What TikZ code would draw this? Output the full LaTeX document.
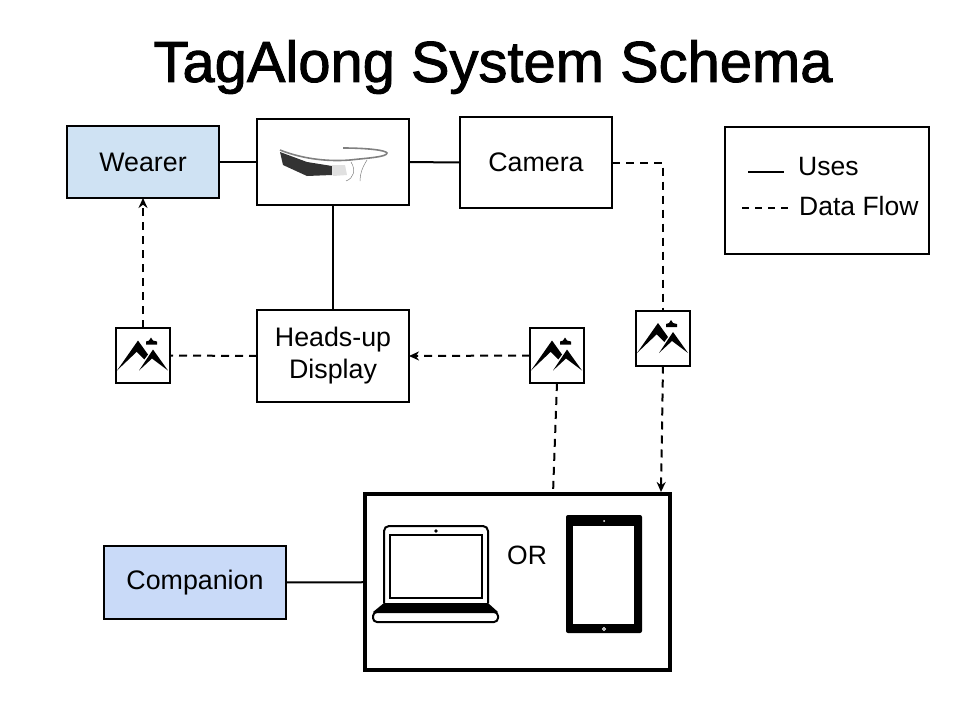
\documentclass[tikz,border=0pt]{standalone}
\usepackage{fontspec}
\setmainfont{Liberation Sans}
\newfontfamily\titlefont[FakeBold=1.6]{Liberation Sans}
\usepackage{xcolor}
\usetikzlibrary{positioning,shapes,arrows.meta}
\definecolor{wearerblue}{HTML}{CFE2F3}
\definecolor{companionblue}{HTML}{C9DAF8}

\begin{document}
\begin{tikzpicture}[
  x=1pt, y=-1pt,
  box/.style={rectangle, draw=black, line width=2pt, outer sep=0pt, align=center, font=\fontsize{26.8}{32}\selectfont},
  imgbox/.style={rectangle, draw=black, line width=2pt, outer sep=0pt, fill=white, minimum width=54pt, minimum height=55pt},
  label/.style={inner sep=0pt, font=\fontsize{26.5}{32}\selectfont},
  uses/.style={line width=2pt, black},
  flow/.style={line width=2pt, black, dash pattern=on 8pt off 6pt},
  arrow/.style={flow, -{Stealth[length=10pt,width=9pt]}},
  scenery/.pic={
    \fill[black] (-26,15) -- (-5,-15) -- (5,-1) -- (1.3,4) -- (-6.3,-3.7) -- cycle;
    \fill[black] (-4,15) -- (10,-6) -- (25,15) -- (9,3) -- cycle;
    \fill[black] (3,-11) -- (3,-14) -- (6,-15) -- (8,-18) -- (10,-15) -- (14,-14) -- (14,-11) -- cycle;
  },
]
  \useasboundingbox (0,0) rectangle (960,720);

  \node[inner sep=0pt, font=\titlefont\fontsize{57.9}{68}\selectfont] (title) at (493,67) {TagAlong System Schema};

  \node[box, fill=wearerblue, minimum width=152pt, minimum height=72pt] (wearer) at (143,162) {\raisebox{-1pt}{Wearer}};
  \node[box, minimum width=152pt, minimum height=86pt] (glass) at (333,162) {};
  \node[box, minimum width=152pt, minimum height=91pt] (camera) at (536,162.5) {Camera};
  \node[box, minimum width=152pt, minimum height=92pt] (hud) at (333,356) {\raisebox{-2pt}{Heads-up}\\\raisebox{-2pt}{Display}};
  \node[box, fill=companionblue, minimum width=182pt, minimum height=73pt] (companion) at (195,582.5) {\raisebox{-2pt}{Companion}};
  \node[box, line width=3.2pt, minimum width=305pt, minimum height=176pt] (device) at (517.5,582) {};
  \node[box, minimum width=204pt, minimum height=127pt] (legend) at (827,190.5) {};

  \node[imgbox] (imgleft) at (143,355.5) {};
  \node[imgbox] (imgmid) at (557,355.5) {};
  \node[imgbox] (imgright) at (663,338) {};
  \pic at (imgleft) {scenery};
  \pic at (imgmid) {scenery};
  \pic at (imgright) {scenery};

  \draw[uses] (wearer) -- (glass);
  \draw[uses] (glass) -- (camera);
  \draw[uses] (glass) -- (hud);
  \draw[uses] (companion) -- (device);

  \coordinate (devmid) at (553,494);
  \coordinate (devright) at (661,492);
  \draw[flow] (camera.east) -| (imgright.north);
  \draw[arrow] (imgright.south) -- (devright);
  \draw[arrow] (imgmid.west) -- (hud.east);
  \draw[flow] (imgmid.south) -- (devmid);
  \draw[flow] (hud.west) -- (imgleft.east);
  \draw[arrow] (imgleft.north) -- (wearer.south);

  \coordinate (usesa) at (748,172);
  \coordinate (usesb) at (784,172);
  \coordinate (flowa) at (742,208);
  \coordinate (flowb) at (788,208);
  \draw[uses] (usesa) -- (usesb);
  \draw[flow, line width=1.6pt, dash pattern=on 7pt off 6pt] (flowa) -- (flowb);
  \node[label, anchor=west] (lbluses) at (798,167) {Uses};
  \node[label, anchor=west] (lblflow) at (799,206) {Data Flow};
  \node[label] (lblor) at (527,555) {OR};

  \draw[black!50, line width=1.6pt] (280,150) .. controls (300,158) and (325,162) .. (350,160) .. controls (368,158) and (387,157) .. (387,153) .. controls (386,150) and (365,148) .. (343,148);
  \fill[black!80] (280,152) -- (307,162) -- (332,166) -- (332,175) -- (307,176) -- (283,165) -- cycle;
  \fill[black!12] (332,165) -- (345,165) -- (347,175) -- (333,176) -- cycle;
  \draw[black!50, line width=0.5pt] (351,162) .. controls (356,170) and (354,178) .. (346,181);
  \draw[black!50, line width=0.5pt] (367,160) .. controls (362,168) and (360,174) .. (360,181);

  \draw[black, line width=2pt, rounded corners=5pt] (384,603) -- (384,526) -- (488,526) -- (488,603);
  \draw[black, line width=2pt] (390,535) rectangle (482,598);
  \fill[black] (436,531) circle (1.8pt);
  \fill[black] (384,603) -- (488,603) -- (498,612) -- (373,612) -- cycle;
  \draw[black, line width=2pt, rounded corners=4pt] (373,612) -- (373,622) -- (498,622) -- (498,612) -- cycle;

  \fill[black, rounded corners=2pt] (566,515) rectangle (642,633);
  \fill[white] (573,526) rectangle (634,624);
  \fill[white] (604,521) circle (1pt);
  \draw[white, line width=0.8pt] (604,629) circle (1.5pt);
\end{tikzpicture}
\end{document}
